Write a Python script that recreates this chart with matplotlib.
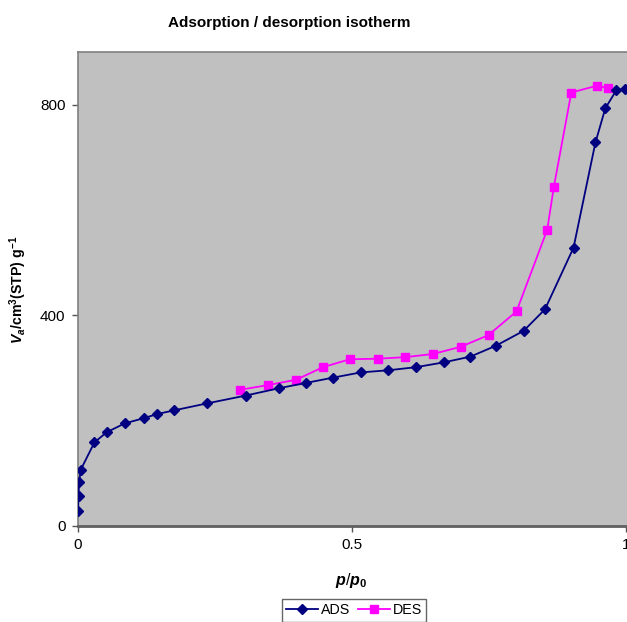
import matplotlib
matplotlib.use('Agg')
import matplotlib.pyplot as plt

plt.rcParams['font.family'] = ['Liberation Sans', 'DejaVu Sans']
plt.rcParams['mathtext.fontset'] = 'custom'
plt.rcParams['mathtext.rm'] = 'Liberation Sans'
plt.rcParams['mathtext.it'] = 'Liberation Sans:italic:bold'
plt.rcParams['mathtext.bf'] = 'Liberation Sans:bold'

# adsorption branch
ads_p = [0.0, 0.001, 0.002, 0.005, 0.030, 0.052, 0.085, 0.120, 0.145, 0.176,
         0.235, 0.306, 0.367, 0.416, 0.465, 0.516, 0.566, 0.617, 0.667, 0.716,
         0.763, 0.813, 0.852, 0.904, 0.944, 0.962, 0.982, 0.998]
ads_v = [27, 57, 82, 106, 158, 177, 194, 204, 212, 219,
         232, 247, 261, 271, 281, 291, 295, 301, 310, 321,
         342, 370, 411, 528, 728, 793, 827, 830]

# desorption branch
des_p = [0.296, 0.347, 0.398, 0.447, 0.496, 0.547, 0.597, 0.648, 0.699, 0.749,
         0.800, 0.856, 0.868, 0.900, 0.947, 0.967]
des_v = [258, 267, 277, 301, 316, 317, 320, 326, 340, 362,
         407, 562, 643, 823, 836, 831]

xticks = [0, 0.5, 1]
xtick_labels = ['0', '0.5', '1']
yticks = [0, 400, 800]

fig = plt.figure(figsize=(6.27, 6.22), dpi=100)
W, H = 627, 622
# plot area runs past the right edge of the figure
ax = fig.add_axes([78 / W, 1 - 525.5 / H, (627 - 78) / W + 0.003, (525.5 - 52) / H])
ax.set_facecolor('#c0c0c0')

ax.plot(ads_p, ads_v, color='#000080', lw=1.3, marker='D', ms=4.6,
        markeredgecolor='#000080', markerfacecolor='#000080', label='ADS', zorder=3)
ax.plot(des_p, des_v, color='#ff00ff', lw=1.3, marker='s', ms=6.3,
        markeredgecolor='#ff00ff', markerfacecolor='#ff00ff', label='DES', zorder=2)

ax.set_xlim(0, 1.005)
ax.set_ylim(0, 900)
ax.set_xticks(xticks)
ax.set_xticklabels(xtick_labels)
ax.set_yticks(yticks)
ax.tick_params(axis='both', direction='out', length=4, width=1, color='#555555',
               labelsize=11, pad=5)

for side in ['left', 'top']:
    ax.spines[side].set_color('#808080')
    ax.spines[side].set_linewidth(1.2)
ax.spines['bottom'].set_color('#606060')
ax.spines['bottom'].set_linewidth(2)
ax.spines['right'].set_visible(False)

fig.text(289 / W, 1 - 23 / H, 'Adsorption / desorption isotherm', ha='center', va='center',
         fontsize=11, fontweight='bold')
fig.text(351 / W, 1 - 581 / H, r'$\mathit{p/p}_{\mathbf{0}}$', ha='center', va='center',
         fontsize=11.5)
fig.text(18 / W, 1 - 290 / H, r'$\mathit{V}_{\mathit{a}}\mathbf{/cm^{3}(STP)\ g^{-1}}$',
         ha='center', va='center', rotation=90, fontsize=10.2)

leg = fig.legend(loc='upper left', bbox_to_anchor=(282 / W, 1 - 599 / H), ncol=2,
                 frameon=True, fancybox=False, edgecolor='#404040', fontsize=10.3,
                 handlelength=2.2, handletextpad=0.2, columnspacing=0.6,
                 borderpad=0.3, borderaxespad=0)
leg.get_frame().set_linewidth(1)

fig.savefig('out.png', dpi=100)
